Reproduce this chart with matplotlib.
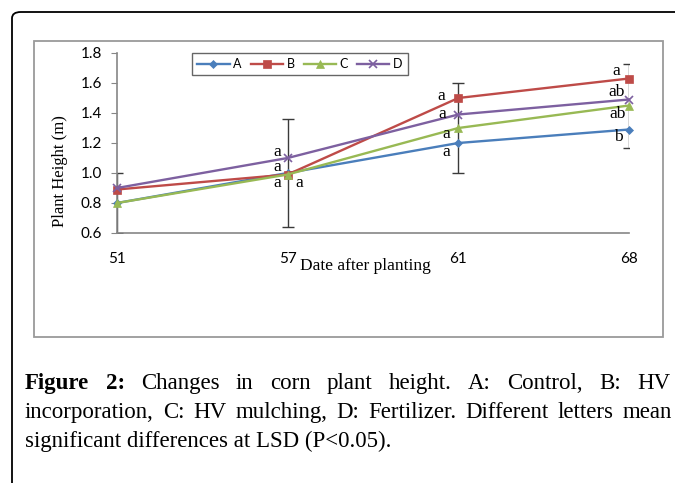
import matplotlib
matplotlib.use("Agg")
import matplotlib.pyplot as plt
from matplotlib.patches import FancyBboxPatch, Rectangle

# ---------------- data ----------------
dates = ["51", "57", "61", "68"]
series_names = ["A", "B", "C", "D"]
A = [0.80, 1.00, 1.20, 1.29]
B = [0.89, 0.99, 1.50, 1.63]
C = [0.80, 0.99, 1.30, 1.45]
D = [0.90, 1.10, 1.39, 1.49]
err_center = [0.80, 1.00, 1.30, 1.45]
err_half = [0.20, 0.36, 0.30, 0.28]
letters_57 = ["a", "a", "a", "a"]
letters_61 = ["a", "a", "a", "a"]
letters_68 = ["a", "ab", "ab", "b"]
yticks = [0.6, 0.8, 1.0, 1.2, 1.4, 1.6, 1.8]
caption_line1 = ["Figure", "2:", "Changes", "in", "corn", "plant", "height.", "A:",
                 "Control,", "B:", "HV"]
caption_line2 = ["incorporation,", "C:", "HV", "mulching,", "D:", "Fertilizer.",
                 "Different", "letters", "mean"]
caption_line3 = "significant differences at LSD (P<0.05)."

W, H = 675, 483
fig = plt.figure(figsize=(W / 100, H / 100), dpi=100)

# outer rounded frame (page box)
outer = FancyBboxPatch((12 / W, 1 - 560 / H), 720 / W, 548 / H,
                       boxstyle="round,pad=0,rounding_size=0.013",
                       transform=fig.transFigure, fill=False,
                       edgecolor="black", linewidth=1.3)
fig.patches.append(outer)
# inner grey chart frame
inner = Rectangle((34 / W, 1 - 337 / H), (663 - 34) / W, (337 - 41) / H,
                  transform=fig.transFigure, fill=False,
                  edgecolor="#9a9a9a", linewidth=1.3)
fig.patches.append(inner)

ax = fig.add_axes([117 / W, (H - 233) / H, 512 / W, 180 / H])
x = list(range(len(dates)))

colors = {"A": "#4a7ebb", "B": "#be4b48", "C": "#98b954", "D": "#7d60a0"}
markers = {"A": "D", "B": "s", "C": "^", "D": "x"}
msizes = {"A": 4.5, "B": 6, "C": 6, "D": 6}
vals = {"A": A, "B": B, "C": C, "D": D}

ax.errorbar(x, err_center, yerr=err_half, fmt="none", ecolor="#3a3a3a",
            elinewidth=1.0, capsize=4, capthick=1.0, zorder=2)

for n in series_names:
    ax.plot(x, vals[n], color=colors[n], marker=markers[n], markersize=msizes[n],
            markeredgewidth=1.2 if n == "D" else 0.5, linewidth=1.7,
            label=n, clip_on=False, zorder=3)

ax.set_xlim(0, 3)
ax.set_ylim(0.6, 1.8)
ax.set_yticks(yticks)
ax.set_yticklabels([f"{v:.1f}" for v in yticks])
ax.set_xticks(x)
ax.set_xticklabels(dates)
for s in ["top", "right"]:
    ax.spines[s].set_visible(False)
for s in ["left", "bottom"]:
    ax.spines[s].set_color("#868686")
    ax.spines[s].set_linewidth(1.2)
ax.tick_params(axis="y", direction="out", length=4, color="#868686",
               labelsize=11, pad=7)
ax.tick_params(axis="x", length=0, labelsize=11, pad=14)
for lab in ax.get_xticklabels() + ax.get_yticklabels():
    lab.set_fontfamily("Lato")
ax.patch.set_alpha(0)

serif = "Liberation Serif"
ax.set_ylabel("Plant Height (m)", family=serif, fontsize=12)
ax.yaxis.set_label_coords((68 - 117) / 512, (233 - 171) / 180)
fig.text(365 / W, 1 - 266 / H, "Date after planting", family=serif,
         fontsize=12.5, ha="center", va="center")

# significance letters (text offsets in data units)
pos57 = [(0.937, 1.139), (0.937, 1.04), (0.937, 0.934), (1.066, 0.934)]
pos61 = [(1.898, 1.515), (1.904, 1.396), (1.927, 1.263), (1.927, 1.139)]
pos68 = [(2.923, 1.681), (2.93, 1.537), (2.935, 1.396), (2.94, 1.243)]
for lets, poss in [(letters_57, pos57), (letters_61, pos61), (letters_68, pos68)]:
    for l, (px, py) in zip(lets, poss):
        ax.text(px, py, l, family=serif, fontsize=12.5, ha="center", va="center",
                zorder=5)

leg = ax.legend(loc="upper left", bbox_to_anchor=(192 / W, 1 - 53 / H),
                bbox_transform=fig.transFigure, borderaxespad=0, ncol=4,
                frameon=True, fancybox=False, edgecolor="#404040",
                handlelength=2.6, handletextpad=0.3, columnspacing=0.7,
                borderpad=0.4, prop={"family": "Lato", "size": 9})
leg.get_frame().set_linewidth(1.0)

# ---------------- caption ----------------
cap_fs = 16.5
fig.canvas.draw()
renderer = fig.canvas.get_renderer()


def justified(words, y_px, x0, x1, bold_n=0):
    ts = []
    for i, w in enumerate(words):
        ts.append(fig.text(0, 1 - y_px / H, w, family=serif, fontsize=cap_fs,
                           weight="bold" if i < bold_n else "normal",
                           ha="left", va="baseline"))
    widths = [t.get_window_extent(renderer).width for t in ts]
    gap = (x1 - x0 - sum(widths)) / (len(ts) - 1)
    xx = x0
    for t, wd in zip(ts, widths):
        t.set_x(xx / W)
        xx += wd + gap


justified(caption_line1, 389, 25, 670, bold_n=2)
justified(caption_line2, 418, 25, 672)
fig.text(25 / W, 1 - 447 / H, caption_line3, family=serif, fontsize=cap_fs,
         ha="left", va="baseline")

fig.savefig("out.png", dpi=100)
